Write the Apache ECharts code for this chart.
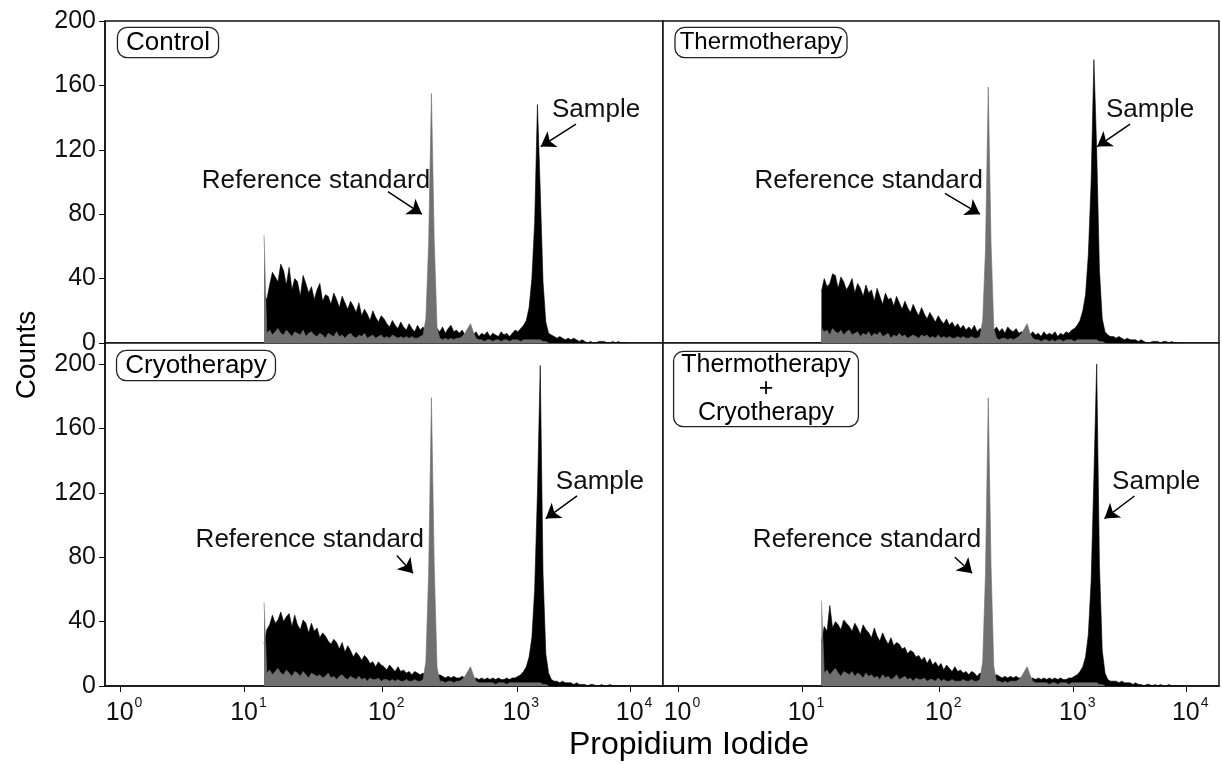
<!DOCTYPE html>
<html>
<head>
<meta charset="utf-8">
<title>Propidium Iodide histograms</title>
<script src="https://cdn.jsdelivr.net/npm/echarts@6/dist/echarts.min.js"></script>
<style>
html, body { margin: 0; padding: 0; background: #fff; }
#chart { width: 1222px; height: 764px; }
</style>
</head>
<body>
<div id="chart"></div>
<script>
// channel scale 0..1000 across each panel, histogram bins start at channel 285
const binStart = 285
const binWidth = 5
const xTickPos = [27, 250, 497, 738, 941]
const xTickExp = ['0', '1', '2', '3', '4']
const yTicks = [0, 40, 80, 120, 160, 200]

// Control
const controlSample = [
  30, 27, 36, 44, 41, 38, 49, 45, 36, 47,
  33, 40, 38, 29, 42, 37, 31, 35, 27, 33,
  37, 26, 30, 29, 24, 31, 27, 22, 29, 25,
  21, 26, 23, 19, 25, 17, 21, 18, 14, 20,
  16, 13, 17, 15, 12, 10, 14, 11, 9, 13,
  10, 8, 12, 9, 7, 11, 8, 10, 7, 6,
  6, 6, 9, 7, 10, 6, 9, 11, 7, 8,
  6, 8, 5, 7, 6, 5, 7, 4, 6, 5,
  7, 4, 6, 5, 4, 7, 5, 6, 4, 6,
  8, 7, 9, 11, 14, 22, 40, 75, 148, 95,
  38, 13, 6, 5, 4, 3, 4, 3, 2, 3,
  2, 3, 2, 1, 2, 1, 0, 1, 0, 0,
  1, 1, 1, 0, 0, 1, 0, 1, 0, 0, 0
]
const controlRef = [
  67, 6, 8, 5, 7, 9, 6, 5, 8, 6,
  4, 7, 6, 5, 8, 4, 6, 7, 5, 4,
  6, 5, 3, 6, 5, 4, 7, 4, 5, 3,
  5, 6, 4, 3, 5, 4, 6, 3, 4, 5,
  3, 4, 5, 3, 4, 3, 5, 4, 3, 4,
  3, 4, 3, 4, 3, 3, 4, 5, 15, 62,
  155, 64, 10, 3, 2, 3, 2, 3, 2, 3,
  3, 4, 6, 9, 12, 7, 3, 2, 2, 1,
  2, 2, 1, 2, 2, 1, 2, 2, 1, 2,
  2, 2, 1, 2, 2, 2, 2, 2, 2, 2,
  1, 1, 0
]

// Thermotherapy
const thermoSample = [
  32, 40, 35, 37, 43, 42, 34, 41, 38, 33,
  36, 40, 31, 37, 34, 29, 36, 31, 33, 26,
  34, 29, 24, 31, 27, 28, 23, 29, 25, 21,
  26, 22, 19, 24, 20, 17, 22, 18, 15, 19,
  16, 13, 17, 14, 12, 15, 11, 13, 10, 12,
  9, 11, 8, 10, 8, 11, 7, 9, 8, 6,
  6, 6, 8, 10, 7, 9, 6, 10, 8, 7,
  9, 6, 7, 6, 6, 5, 7, 5, 6, 4,
  7, 5, 6, 5, 7, 4, 6, 5, 7, 6,
  8, 9, 11, 14, 20, 30, 55, 100, 176, 120,
  45, 15, 7, 5, 4, 4, 3, 4, 3, 2,
  3, 2, 2, 2, 1, 2, 1, 0, 0, 1,
  1, 1, 0, 1, 1, 0, 1, 0, 0, 0, 0
]
const thermoRef = [
  9, 7, 8, 5, 9, 7, 6, 8, 5, 7,
  8, 5, 6, 7, 4, 6, 5, 7, 4, 6,
  5, 7, 4, 5, 6, 3, 5, 4, 6, 4,
  5, 3, 4, 5, 4, 3, 5, 4, 5, 3,
  4, 3, 5, 3, 4, 3, 4, 3, 3, 4,
  3, 4, 3, 3, 4, 3, 3, 4, 14, 58,
  159, 62, 9, 3, 2, 3, 3, 2, 3, 2,
  3, 4, 6, 9, 12, 6, 3, 2, 2, 1,
  2, 2, 1, 2, 1, 2, 2, 1, 2, 2,
  2, 1, 2, 2, 2, 2, 2, 2, 2, 2,
  1, 1, 0
]

// Cryotherapy
const cryoSample = [
  26, 35, 38, 44, 39, 41, 46, 40, 43, 45,
  37, 44, 38, 35, 41, 39, 33, 39, 34, 36,
  30, 33, 31, 28, 26, 29, 27, 23, 27, 21,
  25, 22, 18, 21, 19, 16, 19, 17, 14, 15,
  12, 15, 13, 12, 10, 13, 11, 9, 12, 9,
  10, 8, 9, 7, 9, 8, 7, 8, 6, 6,
  5, 5, 6, 7, 6, 5, 6, 5, 6, 5,
  5, 6, 5, 5, 5, 4, 5, 4, 5, 4,
  5, 4, 5, 4, 5, 4, 4, 5, 4, 5,
  5, 6, 7, 9, 12, 18, 30, 60, 120, 199,
  70, 20, 8, 4, 3, 3, 2, 3, 2, 2,
  2, 1, 2, 1, 1, 1, 0, 1, 1, 0,
  0, 1, 0, 0, 1, 0, 0, 0, 0, 0, 0
]
const cryoRef = [
  52, 8, 10, 7, 9, 11, 8, 7, 10, 8,
  6, 9, 8, 6, 9, 7, 5, 8, 7, 6,
  7, 5, 6, 8, 5, 6, 4, 6, 7, 5,
  4, 6, 5, 4, 6, 4, 5, 3, 5, 4,
  4, 5, 3, 4, 4, 3, 4, 3, 4, 3,
  3, 4, 3, 3, 4, 3, 3, 4, 15, 70,
  179, 75, 12, 3, 3, 2, 3, 3, 2, 3,
  3, 4, 6, 9, 12, 7, 3, 2, 2, 2,
  2, 2, 2, 1, 2, 2, 2, 1, 2, 2,
  2, 2, 2, 2, 2, 2, 2, 2, 2, 2,
  1, 1, 0
]

// Thermotherapy + Cryotherapy
const comboSample = [
  28, 37, 34, 50, 36, 40, 38, 35, 41, 39,
  37, 34, 39, 36, 32, 38, 35, 33, 30, 36,
  31, 28, 33, 29, 26, 30, 25, 27, 26, 23,
  24, 20, 22, 21, 18, 19, 16, 18, 14, 17,
  13, 15, 12, 14, 10, 13, 11, 9, 12, 9,
  10, 8, 9, 7, 9, 8, 6, 8, 7, 6,
  5, 5, 6, 7, 6, 5, 6, 5, 6, 5,
  6, 5, 5, 5, 5, 4, 5, 4, 5, 4,
  5, 4, 5, 4, 5, 4, 5, 4, 4, 5,
  5, 6, 7, 9, 12, 18, 32, 65, 130, 200,
  75, 22, 8, 4, 3, 3, 3, 2, 3, 2,
  2, 2, 1, 2, 1, 1, 0, 1, 1, 0,
  1, 0, 1, 0, 0, 1, 0, 0, 0, 0, 0
]
const comboRef = [
  53, 8, 10, 7, 9, 11, 8, 6, 9, 8,
  7, 9, 6, 8, 7, 5, 8, 6, 7, 5,
  6, 4, 7, 5, 6, 4, 5, 7, 4, 5,
  6, 4, 5, 3, 5, 4, 4, 5, 3, 4,
  4, 3, 5, 3, 4, 3, 3, 4, 3, 3,
  3, 4, 3, 3, 4, 3, 3, 4, 15, 70,
  179, 75, 12, 3, 3, 2, 3, 2, 3, 3,
  3, 4, 6, 9, 12, 7, 3, 2, 2, 2,
  2, 2, 1, 2, 2, 1, 2, 2, 2, 1,
  2, 2, 2, 2, 2, 2, 2, 2, 2, 2,
  1, 1, 0
]

const font = '"Liberation Sans", Arial, Helvetica, sans-serif'
const ink = '#111'
const grey = '#707070'

// one entry per panel: grid box + where the notes sit (data coords)
const panels = [
  {
    sample: controlSample, ref: controlRef, ymax: 200, bottom: false, left: true,
    grid: { left: 105, top: 21, width: 558, height: 322 },
    refText: [378, 101], refArrow: [[507, 94], [568, 80]],
    smpText: [880, 145], smpArrow: [[844, 136], [781, 122]]
  },
  {
    sample: thermoSample, ref: thermoRef, ymax: 200, bottom: false, left: false,
    grid: { left: 663, top: 21, width: 556, height: 322 },
    refText: [370, 101], refArrow: [[507, 93], [570, 80]],
    smpText: [876, 145], smpArrow: [[840, 136], [781, 122]]
  },
  {
    sample: cryoSample, ref: cryoRef, ymax: 213, bottom: true, left: true,
    grid: { left: 105, top: 343, width: 558, height: 343 },
    refText: [367, 91], refArrow: [[523, 81], [552, 70]],
    smpText: [887, 127], smpArrow: [[846, 118], [790, 104]]
  },
  {
    sample: comboSample, ref: comboRef, ymax: 213, bottom: true, left: false,
    grid: { left: 663, top: 343, width: 556, height: 343 },
    refText: [367, 91], refArrow: [[525, 80], [556, 70]],
    smpText: [887, 127], smpArrow: [[848, 118], [794, 104]]
  }
]

function toPairs(counts) {
  return counts.map((c, i) => [binStart + i * binWidth, c])
}

const chart = echarts.init(document.getElementById('chart'), null, { renderer: 'canvas' })

const grid = [], xAxis = [], yAxis = [], series = []
panels.forEach((p, i) => {
  grid.push(Object.assign({ show: true, borderColor: ink, borderWidth: 1.5, backgroundColor: '#fff' }, p.grid))
  xAxis.push({
    gridIndex: i, type: 'value', min: 0, max: 1000,
    splitLine: { show: false },
    axisLine: { show: p.bottom, lineStyle: { color: ink, width: 1.5 } },
    axisTick: { show: p.bottom, customValues: xTickPos, length: 6, lineStyle: { color: ink, width: 1 } },
    axisLabel: {
      show: p.bottom, customValues: xTickPos, margin: 10,
      formatter: v => '{b|10}{s|' + xTickExp[xTickPos.indexOf(v)] + '}',
      rich: {
        b: { fontSize: 25, fontFamily: font, color: ink, lineHeight: 30, verticalAlign: 'bottom', padding: [0, 0, 0, 8] },
        s: { fontSize: 14, fontFamily: font, color: ink, lineHeight: 14, verticalAlign: 'top', padding: [0, 0, 0, 1] }
      }
    }
  })
  yAxis.push({
    gridIndex: i, type: 'value', min: 0, max: p.ymax,
    splitLine: { show: false },
    axisLine: { show: p.left, lineStyle: { color: ink, width: 1.5 } },
    axisTick: { show: p.left, customValues: yTicks, length: 6, lineStyle: { color: ink, width: 1 } },
    axisLabel: { show: p.left, customValues: yTicks, margin: 9, fontSize: 25, fontFamily: font, color: ink }
  })
  series.push({
    type: 'line', xAxisIndex: i, yAxisIndex: i, z: 2,
    data: toPairs(p.sample), symbol: 'none', silent: true,
    lineStyle: { color: '#000', width: 0.6 },
    areaStyle: { color: '#000', opacity: 1 },
    markLine: {
      silent: true, symbol: ['none', 'arrow'], symbolSize: 14,
      lineStyle: { color: '#000', width: 1.5, type: 'solid' },
      label: { show: false },
      data: [
        [{ coord: p.refArrow[0] }, { coord: p.refArrow[1] }],
        [{ coord: p.smpArrow[0] }, { coord: p.smpArrow[1] }]
      ]
    },
    markPoint: {
      silent: true, symbol: 'circle', symbolSize: 1,
      itemStyle: { color: 'rgba(0,0,0,0)' },
      label: { show: true, position: 'inside', color: ink, fontSize: 26, fontFamily: font, formatter: d => d.name },
      data: [
        { name: 'Reference standard', coord: p.refText },
        { name: 'Sample', coord: p.smpText }
      ]
    }
  })
  series.push({
    type: 'line', xAxisIndex: i, yAxisIndex: i, z: 3,
    data: toPairs(p.ref), symbol: 'none', silent: true,
    lineStyle: { color: grey, width: 0.6 },
    areaStyle: { color: grey, opacity: 1 }
  })
})

function boxLabel(text, x, y, size, lh, padX) {
  return {
    type: 'text', x: x, y: y, z: 100,
    style: {
      text: text, font: size + 'px ' + font, fill: '#000',
      align: 'center', verticalAlign: 'top', textAlign: 'center', textVerticalAlign: 'top',
      lineHeight: lh, padding: [1, padX, 1, padX],
      borderColor: '#222', borderWidth: 1.3, borderRadius: 9, backgroundColor: '#fff'
    }
  }
}

const option = {
  animation: false,
  backgroundColor: '#fff',
  grid: grid,
  xAxis: xAxis,
  yAxis: yAxis,
  series: series,
  graphic: [
    boxLabel('Control', 168, 28, 26, 27, 8),
    boxLabel('Thermotherapy', 761, 28, 24, 27, 4),
    boxLabel('Cryotherapy', 196, 351, 26, 27, 8),
    boxLabel('Thermotherapy\n+\nCryotherapy', 766, 352, 25, 24, 7),
    {
      type: 'text', x: 27, y: 355, rotation: Math.PI / 2,
      style: { text: 'Counts', font: '28px ' + font, fill: '#000', align: 'center', verticalAlign: 'middle', textAlign: 'center', textVerticalAlign: 'middle' }
    },
    {
      type: 'text', x: 689, y: 745,
      style: { text: 'Propidium Iodide', font: '32px ' + font, fill: '#000', align: 'center', verticalAlign: 'middle', textAlign: 'center', textVerticalAlign: 'middle' }
    }
  ]
}
chart.setOption(option)
</script>
</body>
</html>
